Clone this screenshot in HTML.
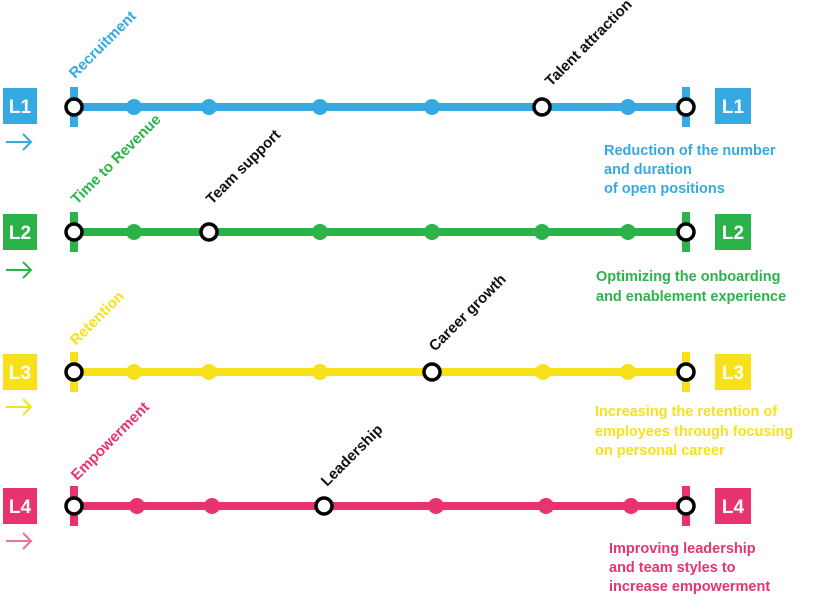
<!DOCTYPE html>
<html><head><meta charset="utf-8"><style>
html,body{margin:0;padding:0;background:#fff;}
svg{display:block;}
text{font-family:"Liberation Sans",sans-serif;font-weight:bold;}
</style></head><body>
<svg width="820" height="608" viewBox="0 0 820 608" xmlns="http://www.w3.org/2000/svg">
<!-- L1 -->
<g>
<rect x="3" y="88" width="34" height="36" fill="#35a9e1"/>
<text x="20" y="113" font-size="19" fill="#fff" text-anchor="middle">L1</text>
<rect x="715" y="88" width="36" height="36" fill="#35a9e1"/>
<text x="733" y="113" font-size="19" fill="#fff" text-anchor="middle">L1</text>
<path d="M6 142 H31 M23 134 L31 142 L23 150" stroke="#35a9e1" stroke-width="2" fill="none"/>
<rect x="70" y="87" width="8" height="40" fill="#35a9e1"/>
<rect x="682" y="87" width="8" height="40" fill="#35a9e1"/>
<line x1="74" y1="107" x2="686" y2="107" stroke="#35a9e1" stroke-width="8"/>
<g fill="#35a9e1"><circle cx="134" cy="107" r="8"/><circle cx="209" cy="107" r="8"/><circle cx="320" cy="107" r="8"/><circle cx="432" cy="107" r="8"/><circle cx="628" cy="107" r="8"/></g>
<g fill="#fff" stroke="#000" stroke-width="3.5"><circle cx="74" cy="107" r="8"/><circle cx="542" cy="107" r="8"/><circle cx="686" cy="107" r="8"/></g>
<text transform="translate(75,79) rotate(-45)" font-size="15" fill="#35a9e1">Recruitment</text>
<text transform="translate(551,87) rotate(-45)" font-size="15" fill="#111">Talent attraction</text>
<text font-size="14.5" fill="#35a9e1"><tspan x="604" y="155">Reduction of the number</tspan><tspan x="604" y="174">and duration</tspan><tspan x="604" y="193">of open positions</tspan></text>
</g>
<!-- L2 -->
<g>
<rect x="3" y="214" width="34" height="36" fill="#2bb34a"/>
<text x="20" y="239" font-size="19" fill="#fff" text-anchor="middle">L2</text>
<rect x="715" y="214" width="36" height="36" fill="#2bb34a"/>
<text x="733" y="239" font-size="19" fill="#fff" text-anchor="middle">L2</text>
<path d="M6 270 H31 M23 262 L31 270 L23 278" stroke="#2bb34a" stroke-width="2" fill="none"/>
<rect x="70" y="212" width="8" height="40" fill="#2bb34a"/>
<rect x="682" y="212" width="8" height="40" fill="#2bb34a"/>
<line x1="74" y1="232" x2="686" y2="232" stroke="#2bb34a" stroke-width="8"/>
<g fill="#2bb34a"><circle cx="134" cy="232" r="8"/><circle cx="320" cy="232" r="8"/><circle cx="432" cy="232" r="8"/><circle cx="542" cy="232" r="8"/><circle cx="628" cy="232" r="8"/></g>
<g fill="#fff" stroke="#000" stroke-width="3.5"><circle cx="74" cy="232" r="8"/><circle cx="209" cy="232" r="8"/><circle cx="686" cy="232" r="8"/></g>
<text transform="translate(77,205) rotate(-45)" font-size="15" fill="#2bb34a">Time to Revenue</text>
<text transform="translate(212,205) rotate(-45)" font-size="15" fill="#111">Team support</text>
<text font-size="14.5" fill="#2bb34a"><tspan x="596" y="281">Optimizing the onboarding</tspan><tspan x="596" y="301">and enablement experience</tspan></text>
</g>
<!-- L3 -->
<g>
<rect x="3" y="354" width="34" height="36" fill="#f7e11b"/>
<text x="20" y="379" font-size="19" fill="#fff" text-anchor="middle">L3</text>
<rect x="715" y="354" width="36" height="36" fill="#f7e11b"/>
<text x="733" y="379" font-size="19" fill="#fff" text-anchor="middle">L3</text>
<path d="M6 407 H31 M23 399 L31 407 L23 415" stroke="#f7e11b" stroke-width="2" fill="none"/>
<rect x="70" y="352" width="8" height="40" fill="#f7e11b"/>
<rect x="682" y="352" width="8" height="40" fill="#f7e11b"/>
<line x1="74" y1="372" x2="686" y2="372" stroke="#f7e11b" stroke-width="8"/>
<g fill="#f7e11b"><circle cx="134" cy="372" r="8"/><circle cx="209" cy="372" r="8"/><circle cx="320" cy="372" r="8"/><circle cx="543" cy="372" r="8"/><circle cx="628" cy="372" r="8"/></g>
<g fill="#fff" stroke="#000" stroke-width="3.5"><circle cx="74" cy="372" r="8"/><circle cx="432" cy="372" r="8"/><circle cx="686" cy="372" r="8"/></g>
<text transform="translate(76,346) rotate(-45)" font-size="15" fill="#f7e11b">Retention</text>
<text transform="translate(435,352) rotate(-45)" font-size="15" fill="#111">Career growth</text>
<text font-size="14.5" fill="#f7e11b"><tspan x="595" y="416">Increasing the retention of</tspan><tspan x="595" y="436">employees through focusing</tspan><tspan x="595" y="455">on personal career</tspan></text>
</g>
<!-- L4 -->
<g>
<rect x="3" y="488" width="34" height="36" fill="#e8336e"/>
<text x="20" y="513" font-size="19" fill="#fff" text-anchor="middle">L4</text>
<rect x="715" y="488" width="36" height="36" fill="#e8336e"/>
<text x="733" y="513" font-size="19" fill="#fff" text-anchor="middle">L4</text>
<path d="M6 541 H31 M23 533 L31 541 L23 549" stroke="#ee6f97" stroke-width="2" fill="none"/>
<rect x="70" y="486" width="8" height="40" fill="#e8336e"/>
<rect x="682" y="486" width="8" height="40" fill="#e8336e"/>
<line x1="74" y1="506" x2="686" y2="506" stroke="#e8336e" stroke-width="8"/>
<g fill="#e8336e"><circle cx="137" cy="506" r="8"/><circle cx="212" cy="506" r="8"/><circle cx="436" cy="506" r="8"/><circle cx="546" cy="506" r="8"/><circle cx="631" cy="506" r="8"/></g>
<g fill="#fff" stroke="#000" stroke-width="3.5"><circle cx="74" cy="506" r="8"/><circle cx="324" cy="506" r="8"/><circle cx="686" cy="506" r="8"/></g>
<text transform="translate(77,481) rotate(-45)" font-size="15" fill="#e8336e">Empowerment</text>
<text transform="translate(327,487) rotate(-45)" font-size="15" fill="#111">Leadership</text>
<text font-size="14.5" fill="#e8336e"><tspan x="609" y="553">Improving leadership</tspan><tspan x="609" y="572">and team styles to</tspan><tspan x="609" y="591">increase empowerment</tspan></text>
</g>
</svg>
</body></html>
